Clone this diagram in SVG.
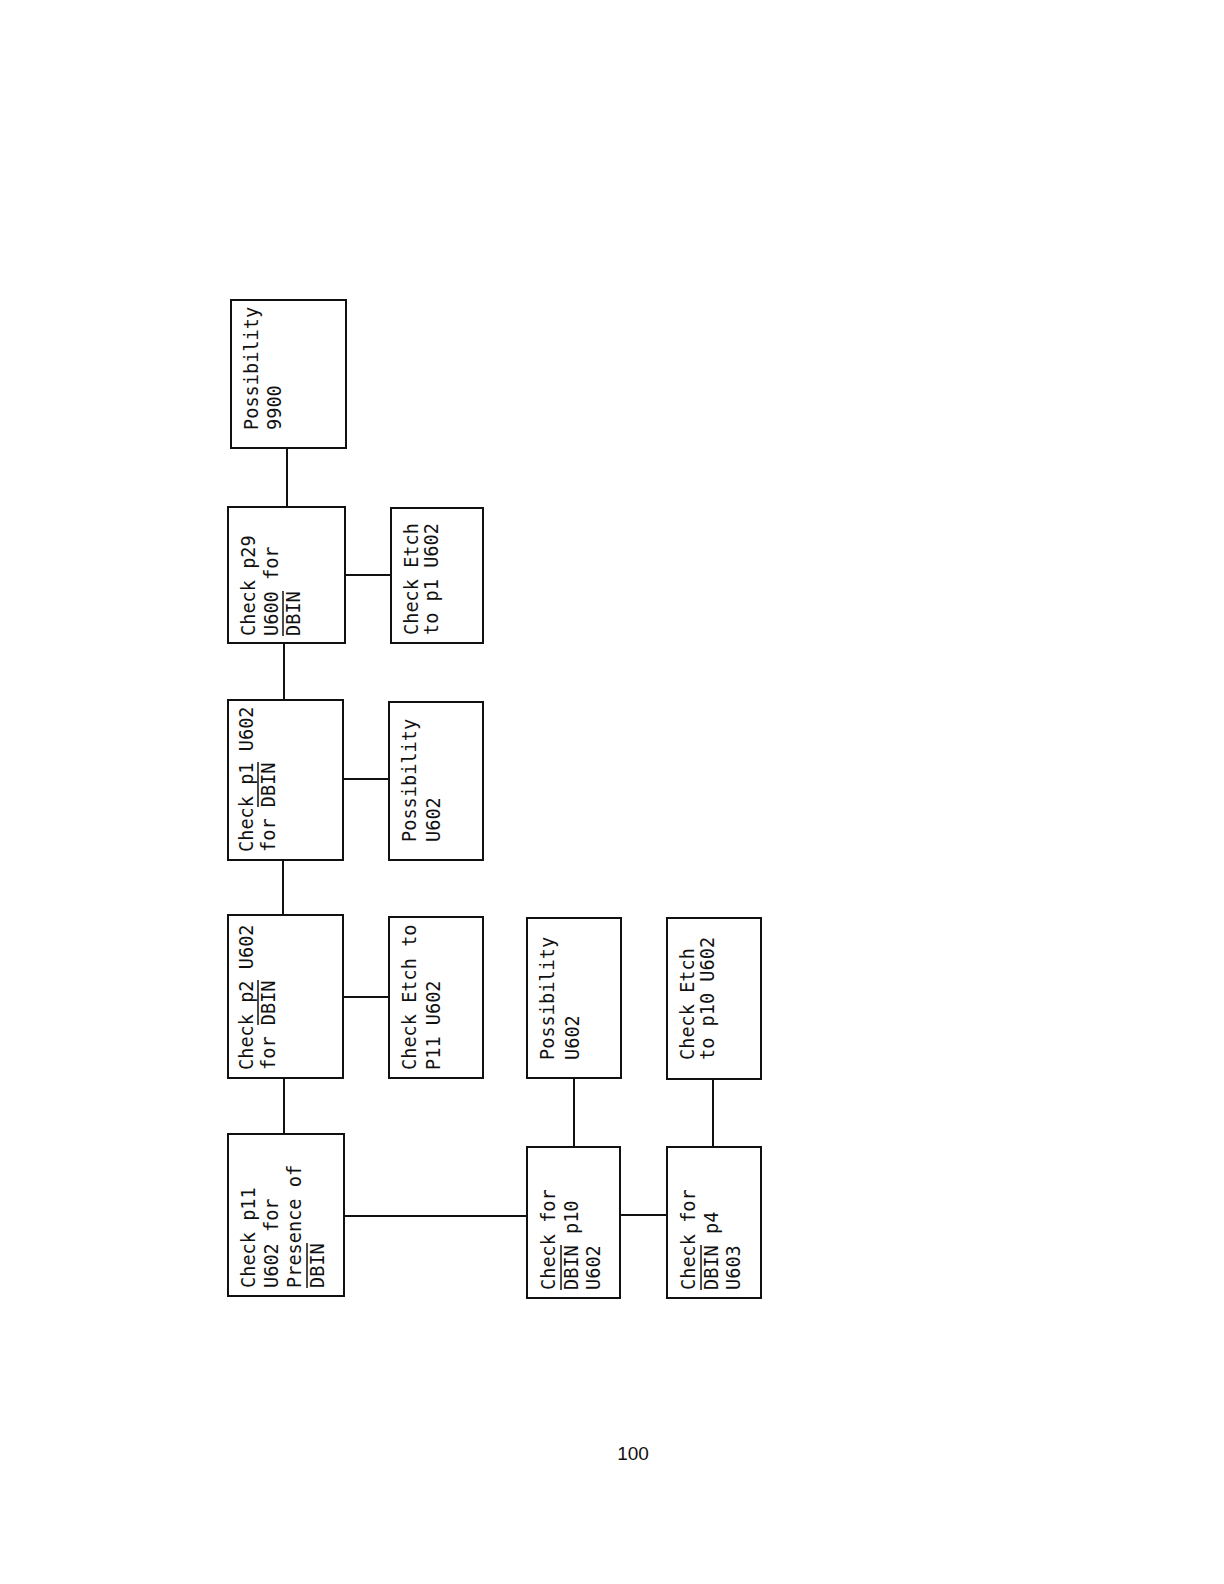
<svg xmlns="http://www.w3.org/2000/svg" width="1224" height="1584" viewBox="0 0 1224 1584">
<style>
.box{fill:#fff;stroke:#111;stroke-width:2}
.t{font-family:"DejaVu Sans Mono","Liberation Mono",monospace;font-size:18.6px;fill:#111}
.ol{stroke:#111;stroke-width:1.5}
.c{stroke:#111;stroke-width:2;fill:none}
.pg{font-family:"Liberation Sans",Arial,sans-serif;font-size:19px;fill:#111}
</style>
<rect width="1224" height="1584" fill="#fff"/>
<g id="connectors">
<line class="c" x1="287" y1="448" x2="287" y2="507"/>
<line class="c" x1="345" y1="575" x2="391" y2="575"/>
<line class="c" x1="284" y1="643" x2="284" y2="700"/>
<line class="c" x1="343" y1="779" x2="389" y2="779"/>
<line class="c" x1="283" y1="860" x2="283" y2="915"/>
<line class="c" x1="343" y1="997" x2="389" y2="997"/>
<line class="c" x1="284" y1="1078" x2="284" y2="1134"/>
<line class="c" x1="344" y1="1216" x2="527" y2="1216"/>
<line class="c" x1="574" y1="1078" x2="574" y2="1147"/>
<line class="c" x1="620" y1="1215" x2="667" y2="1215"/>
<line class="c" x1="713" y1="1079" x2="713" y2="1147"/>
</g>
<g id="n-possibility-9900">
<rect class="box" x="231" y="300" width="115" height="148"/>
<g transform="translate(258,430) rotate(-90)"><text class="t" x="0" y="0">Possibility</text><text class="t" x="0" y="23">9900</text></g>
</g>
<g id="n-check-p29">
<rect class="box" x="228" y="507" width="117" height="136"/>
<g transform="translate(255,636) rotate(-90)"><text class="t" x="0" y="0">Check p29</text><text class="t" x="0" y="23">U600 for</text><text class="t" x="0" y="45">DBIN</text><line class="ol" x1="0" y1="28" x2="45" y2="28"/></g>
</g>
<g id="n-etch-p1">
<rect class="box" x="391" y="508" width="92" height="135"/>
<g transform="translate(418,635) rotate(-90)"><text class="t" x="0" y="0">Check Etch</text><text class="t" x="0" y="20">to p1 U602</text></g>
</g>
<g id="n-check-p1">
<rect class="box" x="228" y="700" width="115" height="160"/>
<g transform="translate(253,852) rotate(-90)"><text class="t" x="0" y="0">Check p1 U602</text><text class="t" x="0" y="22">for DBIN</text><line class="ol" x1="45" y1="5" x2="90" y2="5"/></g>
</g>
<g id="n-possibility-u602-a">
<rect class="box" x="389" y="702" width="94" height="158"/>
<g transform="translate(416,842) rotate(-90)"><text class="t" x="0" y="0">Possibility</text><text class="t" x="0" y="24">U602</text></g>
</g>
<g id="n-check-p2">
<rect class="box" x="228" y="915" width="115" height="163"/>
<g transform="translate(253,1070) rotate(-90)"><text class="t" x="0" y="0">Check p2 U602</text><text class="t" x="0" y="22">for DBIN</text><line class="ol" x1="45" y1="5" x2="90" y2="5"/></g>
</g>
<g id="n-etch-p11">
<rect class="box" x="389" y="917" width="94" height="161"/>
<g transform="translate(416,1070) rotate(-90)"><text class="t" x="0" y="0">Check Etch to</text><text class="t" x="0" y="24">P11 U602</text></g>
</g>
<g id="n-check-p11">
<rect class="box" x="228" y="1134" width="116" height="162"/>
<g transform="translate(255,1288) rotate(-90)"><text class="t" x="0" y="0">Check p11</text><text class="t" x="0" y="23">U602 for</text><text class="t" x="0" y="46">Presence of</text><text class="t" x="0" y="69">DBIN</text><line class="ol" x1="0" y1="52" x2="45" y2="52"/></g>
</g>
<g id="n-possibility-u602-b">
<rect class="box" x="527" y="918" width="94" height="160"/>
<g transform="translate(554,1060) rotate(-90)"><text class="t" x="0" y="0">Possibility</text><text class="t" x="0" y="25">U602</text></g>
</g>
<g id="n-etch-p10">
<rect class="box" x="667" y="918" width="94" height="161"/>
<g transform="translate(694,1060) rotate(-90)"><text class="t" x="0" y="0">Check Etch</text><text class="t" x="0" y="20">to p10 U602</text></g>
</g>
<g id="n-check-p10">
<rect class="box" x="527" y="1147" width="93" height="151"/>
<g transform="translate(555,1290) rotate(-90)"><text class="t" x="0" y="0">Check for</text><text class="t" x="0" y="23">DBIN p10</text><text class="t" x="0" y="45">U602</text><line class="ol" x1="0" y1="6" x2="45" y2="6"/></g>
</g>
<g id="n-check-p4">
<rect class="box" x="667" y="1147" width="94" height="151"/>
<g transform="translate(695,1290) rotate(-90)"><text class="t" x="0" y="0">Check for</text><text class="t" x="0" y="23">DBIN p4</text><text class="t" x="0" y="45">U603</text><line class="ol" x1="0" y1="6" x2="45" y2="6"/></g>
</g>
<text class="pg" x="633" y="1460" text-anchor="middle">100</text>
</svg>
